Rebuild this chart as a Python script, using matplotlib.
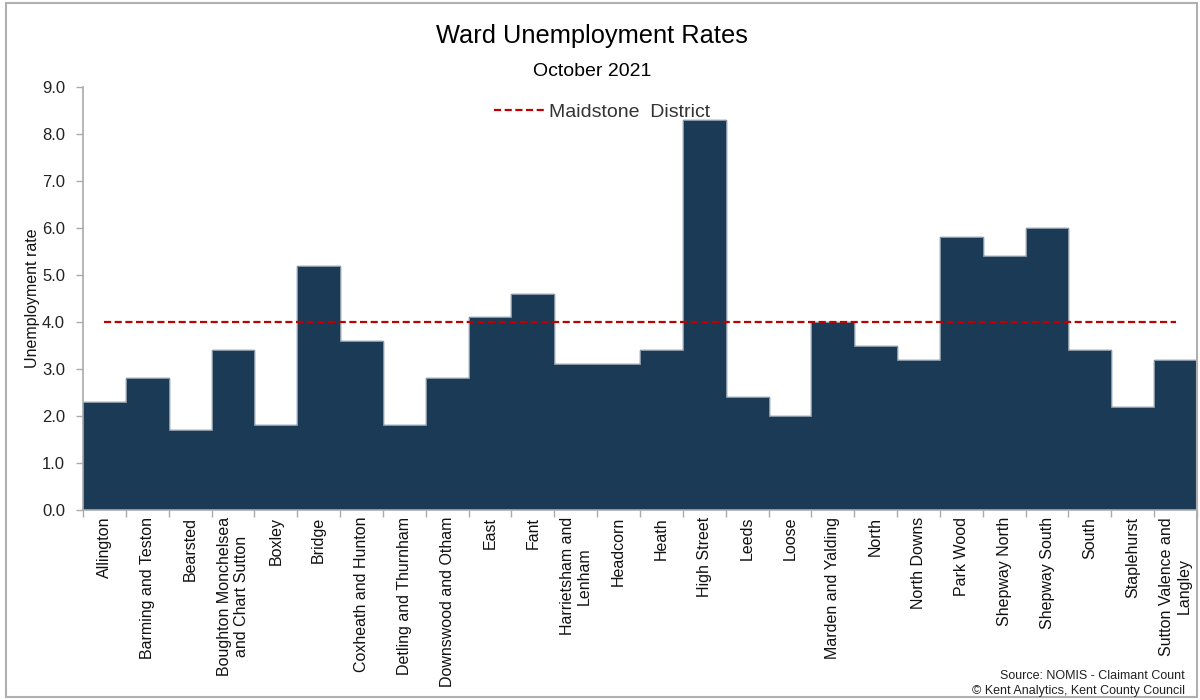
import matplotlib
matplotlib.use("Agg")
import matplotlib.pyplot as plt
from matplotlib.patches import Rectangle
from matplotlib.lines import Line2D

plt.rcParams['font.family'] = ['Liberation Sans', 'DejaVu Sans']

wards = ["Allington", "Barming and Teston", "Bearsted",
         "Boughton Monchelsea\nand Chart Sutton", "Boxley", "Bridge",
         "Coxheath and Hunton", "Detling and Thurnham", "Downswood and Otham",
         "East", "Fant", "Harrietsham and\nLenham", "Headcorn", "Heath",
         "High Street", "Leeds", "Loose", "Marden and Yalding", "North",
         "North Downs", "Park Wood", "Shepway North", "Shepway South",
         "South", "Staplehurst", "Sutton Valence and\nLangley"]
rates = [2.3, 2.8, 1.7, 3.4, 1.8, 5.2, 3.6, 1.8, 2.8, 4.1, 4.6, 3.1, 3.1,
         3.4, 8.3, 2.4, 2.0, 4.0, 3.5, 3.2, 5.8, 5.4, 6.0, 3.4, 2.2, 3.2]
district_rate = 4.0
yticks = [0.0, 1.0, 2.0, 3.0, 4.0, 5.0, 6.0, 7.0, 8.0, 9.0]

fig = plt.figure(figsize=(12, 7), dpi=100)
ax = fig.add_axes([83/1200, 1 - 510/700, (1197-83)/1200, (510-87)/700])

x = list(range(len(wards)))
edges = [i - 0.5 for i in range(len(wards) + 1)]
ax.bar(x, rates, width=1.0, color='#1a3a56', edgecolor='#1a3a56', linewidth=1.0, zorder=2)
# thin light outline along the bar tops
ax.stairs(rates, edges, baseline=None, color='#8c9aa8', lw=0.7, zorder=2.5)
ax.plot(x, [district_rate]*len(x), color='#c00000', lw=1.6,
        linestyle=(0, (3.2, 1.6)), zorder=3)

ax.set_xlim(-0.5, len(wards) - 0.5)
ax.set_ylim(0, 9)
ax.set_yticks(yticks)
ax.set_yticklabels([f"{v:.1f}" for v in yticks], fontsize=12, color='#222222')
ax.set_xticks(x)
ax.set_xticklabels(wards, rotation=90, fontsize=11.5, color='#111111',
                   ha='center', va='top', multialignment='center')
ax.set_xticks(edges, minor=True)
ax.tick_params(axis='x', which='major', length=0, pad=5)
ax.tick_params(axis='x', which='minor', length=5, color='#aaaaaa', width=1)
ax.tick_params(axis='y', length=5, color='#aaaaaa', width=1, pad=8)

for s in ['top', 'right']:
    ax.spines[s].set_visible(False)
for s in ['left', 'bottom']:
    ax.spines[s].set_color('#aaaaaa')
    ax.spines[s].set_linewidth(1.2)
    ax.spines[s].set_zorder(3)

ax.set_ylabel("Unemployment rate", fontsize=11.5, color='#111111', labelpad=1)

fig.text(592/1200, 1 - 36/700, "Ward Unemployment Rates", fontsize=18.3,
         ha='center', va='center', color='#000000')
fig.text(592/1200, 1 - 72/700, "October 2021", fontsize=14,
         ha='center', va='center', color='#000000')

handle = Line2D([0], [0], color='#c00000', lw=1.6, linestyle=(0, (3.2, 1.6)))
fig.legend([handle], ["Maidstone  District"], loc='center',
           bbox_to_anchor=(602/1200, 1 - 112/700), frameon=False, fontsize=14,
           handlelength=2.6, handletextpad=0.2, labelcolor='#333333')

fig.text(1185/1200, 1 - 676/700, "Source: NOMIS - Claimant Count", fontsize=9,
         ha='right', va='center', color='#222222')
fig.text(1185/1200, 1 - 691/700, "\u00a9 Kent Analytics, Kent County Council",
         fontsize=9, ha='right', va='center', color='#222222')

fig.patches.append(Rectangle((6/1200, 3/700), (1197-6)/1200, (697-3)/700,
                             transform=fig.transFigure, fill=False,
                             edgecolor='#b0b0b0', linewidth=1.5))

fig.savefig("out.png", dpi=100)
